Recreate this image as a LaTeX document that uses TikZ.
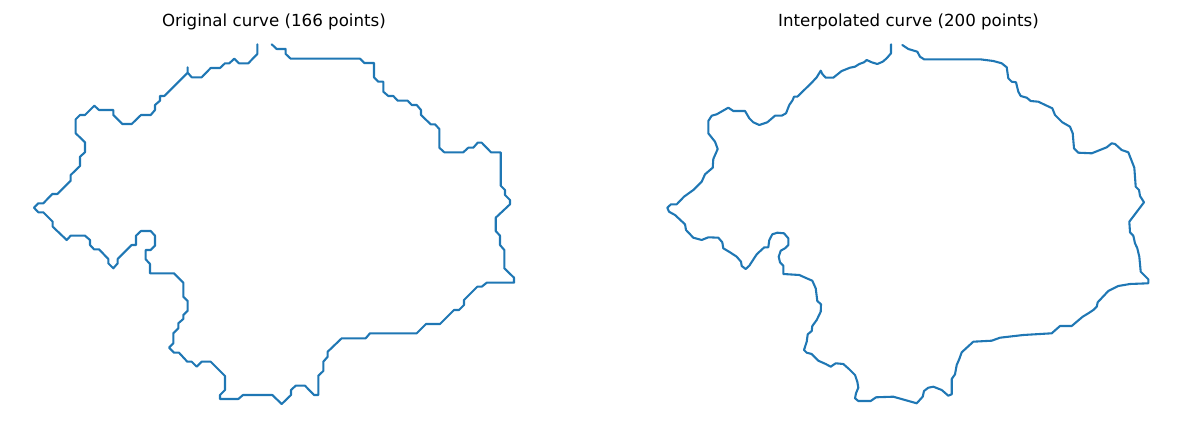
\documentclass[tikz,border=0pt]{standalone}
\usepackage{fontspec}
\setmainfont{DejaVu Sans}
\definecolor{tabblue}{HTML}{1F77B4}
\begin{document}
\begin{tikzpicture}[x=0.72bp,y=-0.72bp,
  curve/.style={draw=tabblue,line width=1.5bp,line join=round,line cap=round},
  ttl/.style={anchor=base,inner sep=0pt,font=\fontsize{12bp}{14bp}\selectfont}]
\useasboundingbox (0,0) rectangle (1182,427);
\node[ttl] (title1) at (274,27) {Original curve (166 points)};
\node[ttl] (title2) at (908.5,27) {Interpolated curve (200 points)};
\draw[curve] (271.7,44.3) -- (276.7,49) -- (285.7,49) -- (285.7,54) -- (290.7,58.7) -- (360,58.7) -- (364.3,63) -- (374,63) -- (374,77.3) -- (378.3,81.7) -- (383.3,81.7) -- (383.3,91.7) -- (388.3,96) -- (393.3,96) -- (397.7,100.7) -- (407.7,100.7) -- (411.7,105) -- (416.7,105) -- (421,110) -- (421,115) -- (430.7,124.3) -- (435,124.3) -- (439.3,129) -- (439.3,147.7) -- (444.3,152.3) -- (463.3,152.3) -- (468.3,147.7) -- (473.3,147.7) -- (477.7,142.7) -- (481.7,142.7) -- (491,152.3) -- (500.7,152.3) -- (500.7,185.7) -- (505,190) -- (505,195) -- (510,200) -- (510,204.3) -- (495.7,217.7) -- (495.7,231) -- (500,235.7) -- (500,245) -- (504.3,250) -- (504.3,268.3) -- (514,277.7) -- (514,282.7) -- (486.7,282.7) -- (481.7,286.7) -- (477.3,286.7) -- (464,300) -- (464,305) -- (459,310) -- (454,310) -- (440,324) -- (426,324) -- (416.7,333.3) -- (370,333.3) -- (365.7,338.3) -- (341.7,338.3) -- (327.7,351.7) -- (327.7,356.7) -- (323.3,361.7) -- (323.3,371) -- (318.3,375.7) -- (318.3,395) -- (314,395) -- (305,385.7) -- (295.7,385.7) -- (291,390) -- (291,395) -- (281.7,404) -- (272.3,395) -- (243,395) -- (238.3,399) -- (220,399) -- (220,395) -- (225,390) -- (225,376) -- (210.7,361.7) -- (201.7,361.7) -- (196.7,366.7) -- (191.7,361.7) -- (187.3,361.7) -- (179,352.7) -- (174,352.7) -- (169,347.7) -- (173.3,343.3) -- (173.3,333.3) -- (178.3,328.3) -- (178.3,323.3) -- (183.3,319) -- (183.3,315) -- (187.7,310.7) -- (187.7,301) -- (183.3,296.7) -- (183.3,282.7) -- (174,273.3) -- (150,273.3) -- (150,264) -- (145.7,259.3) -- (145.7,250) -- (150.7,250) -- (155,245.7) -- (155,235.7) -- (150.7,231) -- (141,231) -- (136,235.7) -- (136,245) -- (131.7,245) -- (117.7,259) -- (117.7,263.3) -- (113.3,268.3) -- (108.3,263.3) -- (108.3,259) -- (99,249.3) -- (94,249.3) -- (90,245) -- (90,240) -- (85,235.7) -- (70.7,235.7) -- (66.7,240) -- (52.7,226.7) -- (52.7,221.7) -- (43.3,212.3) -- (38.3,212.3) -- (34,207.7) -- (38.3,203.3) -- (43.3,203.3) -- (52.3,194) -- (57.3,194) -- (70.7,180.7) -- (70.7,175) -- (80,166) -- (80,156.7) -- (85,152.3) -- (85,142.3) -- (75.7,133.3) -- (75.7,119.3) -- (80,115) -- (85,115) -- (94.3,105.7) -- (99,110) -- (113.3,110) -- (113.3,115) -- (122.3,124) -- (131.7,124) -- (141,115) -- (150.7,115) -- (155,110) -- (155,105) -- (160,100.7) -- (160,96) -- (164.3,96) -- (187.7,72.7) -- (187.7,67.3) -- (187.7,72.7) -- (191.7,77.3) -- (201.7,77.3) -- (210.7,68) -- (220,68) -- (225,63.3) -- (229.3,63.3) -- (234.3,58.7) -- (239,63.3) -- (248.3,63.3) -- (257.3,54) -- (257.3,44.3);
\draw[curve] (902.3,45) -- (908.3,49) -- (917.3,51.7) -- (920,56.7) -- (924,59.3) -- (980,59.3) -- (993.3,61) -- (1001.7,63.3) -- (1006.7,67.3) -- (1008.3,78.3) -- (1011.7,81.7) -- (1016,82.3) -- (1018.3,91.7) -- (1020.7,96) -- (1026.7,97.7) -- (1030.7,101) -- (1038.3,101.7) -- (1046.7,105.7) -- (1052.3,108.3) -- (1055,115) -- (1062.3,122.3) -- (1070,126.7) -- (1072.7,133.3) -- (1074,148.3) -- (1078.3,152.7) -- (1091.7,153.3) -- (1100,150) -- (1106.7,147.3) -- (1111.7,143.3) -- (1115,144) -- (1121.7,150) -- (1128.3,152.3) -- (1131.7,161) -- (1134.3,167.7) -- (1135.7,186.7) -- (1139,190) -- (1140,196) -- (1144,202.3) -- (1129.3,221.7) -- (1130,232.3) -- (1133.3,235.7) -- (1135,243.3) -- (1137.3,248.3) -- (1139.3,256.7) -- (1140.7,271.7) -- (1148.3,279.3) -- (1148.3,283.3) -- (1130,284) -- (1118.3,286) -- (1108.3,291) -- (1097.7,302.3) -- (1096.7,306.7) -- (1093.3,310) -- (1089.3,312.7) -- (1082.7,316.7) -- (1071.7,326) -- (1060,326) -- (1051.7,333.3) -- (1023.3,335) -- (1000,337.7) -- (991.7,340.7) -- (973.3,341.7) -- (961.7,352.3) -- (959.3,359) -- (956.7,365) -- (955,374.3) -- (951.7,379) -- (951.7,394.3) -- (948.3,395.7) -- (941.7,390) -- (933.3,386.7) -- (928.3,387.7) -- (924,391) -- (922.7,396.7) -- (916.7,403.3) -- (893.3,396.7) -- (876,397.3) -- (870.7,401) -- (858.3,401) -- (855,398.3) -- (856,393.3) -- (858.3,387.7) -- (857.3,381.7) -- (855,375) -- (849.3,369.3) -- (843.3,364) -- (835.7,363.3) -- (830.7,366.7) -- (825.7,364) -- (818.3,360.7) -- (811.7,354) -- (806.7,352.7) -- (804,350) -- (806.7,341.7) -- (807.7,334.3) -- (811.7,331) -- (812.3,326) -- (816.7,320) -- (820.7,311.7) -- (821,304.3) -- (817.3,301) -- (815.7,288.3) -- (812.3,280.7) -- (806.7,278.3) -- (799.3,275) -- (783.3,274) -- (783.3,265.7) -- (780,262.3) -- (778.7,256.7) -- (780.7,250.7) -- (785,248.3) -- (788.3,245) -- (788.3,238.3) -- (784,233.3) -- (777.3,232.7) -- (772.3,234.3) -- (769.3,240) -- (768.3,247.3) -- (764.3,247.3) -- (756.7,254.3) -- (749.3,265.7) -- (745.7,269) -- (741.7,266) -- (741,261.7) -- (736.7,256.7) -- (730,252.3) -- (723.3,248.3) -- (722.3,242.3) -- (718.3,237.7) -- (708.3,237.3) -- (701.7,240) -- (693.3,237.7) -- (686,230) -- (685,224.3) -- (675,215) -- (669,211.7) -- (667.3,207.7) -- (671,204.3) -- (676.7,204.3) -- (684,196.7) -- (693.3,190) -- (701.7,181.7) -- (705,174.3) -- (712.7,167.7) -- (713.3,159) -- (717.7,149) -- (715,141.7) -- (708.3,133.3) -- (708.3,121) -- (711.7,115.7) -- (716.7,114.3) -- (728.3,107.7) -- (733.3,111) -- (745,111) -- (749.3,118.3) -- (753.3,122.3) -- (759.3,125) -- (767.3,122.3) -- (775,115.7) -- (781.7,115.7) -- (786,113.3) -- (789.3,105) -- (792.7,100) -- (794,96.7) -- (797.3,96.7) -- (811.7,82.7) -- (816.7,77.3) -- (820.7,70.7) -- (822.3,74) -- (825.7,77.7) -- (833.3,77.7) -- (841.7,71) -- (850,67.7) -- (855,66.7) -- (859.3,64) -- (864,62.3) -- (866.7,60) -- (871.7,62.3) -- (877.3,64) -- (882.7,61.7) -- (886.7,58.3) -- (891,53.3) -- (891,44.3);
\end{tikzpicture}
\end{document}
